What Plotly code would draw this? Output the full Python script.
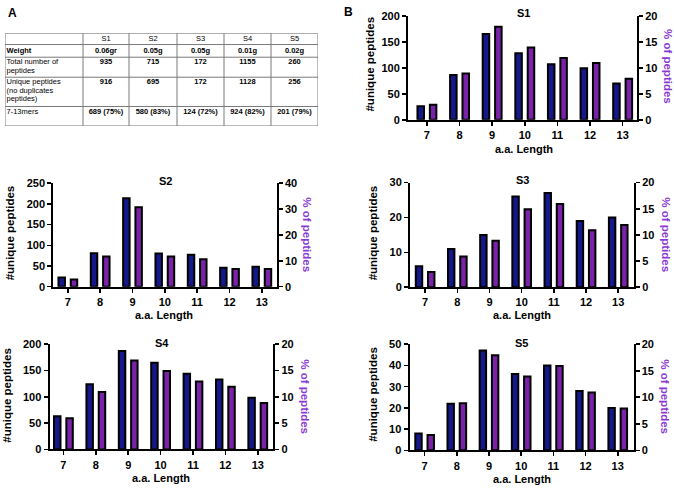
import plotly.graph_objects as go

# ---------------- data ----------------
lengths = [7, 8, 9, 10, 11, 12, 13]

s1_unique = [26, 86, 165, 128, 107, 99, 70]
s1_pct = [2.9, 8.9, 17.9, 13.9, 11.9, 10.9, 7.9]
s2_unique = [22, 81, 214, 80, 77, 46, 48]
s2_pct = [2.8, 11.7, 30.7, 11.7, 10.6, 6.8, 6.8]
s3_unique = [6, 11, 15, 26, 27, 19, 20]
s3_pct = [2.9, 5.9, 8.9, 14.9, 15.9, 10.9, 11.9]
s4_unique = [63, 124, 187, 165, 144, 133, 98]
s4_pct = [5.9, 10.9, 16.9, 14.9, 12.9, 11.9, 8.8]
s5_unique = [8, 22, 47, 36, 40, 28, 20]
s5_pct = [2.9, 8.9, 17.9, 13.9, 15.9, 10.9, 7.9]

samples = ["S1", "S2", "S3", "S4", "S5"]
weights = ["0.06gr", "0.05g", "0.05g", "0.01g", "0.02g"]
total_peptides = ["935", "715", "172", "1155", "260"]
unique_peptides = ["916", "695", "172", "1128", "256"]
mers_7_13 = ["689 (75%)", "580 (83%)", "124 (72%)", "924 (82%)", "201 (79%)"]
row_labels = [["Weight"], ["Total number of", "peptides"],
              ["Unique peptides", "(no duplicates", "peptides)"], ["7-13mers"]]

left_ranges = [200, 250, 30, 200, 50]
left_dticks = [50, 50, 10, 50, 10]
right_ranges = [20, 40, 20, 20, 20]
right_dticks = [5, 10, 5, 5, 5]

# ---------------- layout (pixel geometry) ----------------
W, H = 674, 491
FONT = "Liberation Sans, Arial, sans-serif"
BLUE = "#15188A"
PURPLE = "#7A22A8"
TITLE_PURPLE = "#8A3AD2"

def fx(v):
    return v / W

def fy(v):
    return 1 - v / H

panels = [
    dict(x=(408, 637), y=(10, 116.7), xr=(6.42, 13.44),
         lt=(370, 60), rt=(667.5, 62), xt=(524, 147), tt=(523, 7)),
    dict(x=(53.3, 276.7), y=(181.7, 287.7), xr=(6.55, 13.46),
         lt=(10, 233), rt=(307, 234), xt=(164, 316.5), tt=(165, 179)),
    dict(x=(410, 634), y=(181, 288.3), xr=(6.53, 13.49),
         lt=(373, 232), rt=(666, 234), xt=(522, 317), tt=(522, 178.5)),
    dict(x=(49.5, 273.3), y=(346.7, 454.5), xr=(6.57, 13.48),
         lt=(7.5, 399), rt=(305, 400), xt=(161, 484), tt=(161.5, 345)),
    dict(x=(409.5, 633.5), y=(346.7, 455.5), xr=(6.53, 13.49),
         lt=(373, 397.5), rt=(665, 400), xt=(521.5, 485), tt=(521.5, 345)),
]

uniques = [s1_unique, s2_unique, s3_unique, s4_unique, s5_unique]
pcts = [s1_pct, s2_pct, s3_pct, s4_pct, s5_pct]

fig = go.Figure()
layout = dict(
    width=W, height=H, margin=dict(l=0, r=0, t=0, b=0),
    paper_bgcolor="white", plot_bgcolor="white",
    showlegend=False, barmode="overlay",
    font=dict(family=FONT, color="black"),
)
annotations = []
shapes = []

tickfont = dict(family=FONT, size=11, color="black", weight="bold")

for i, p in enumerate(panels):
    n = i + 1
    xn = "x" if n == 1 else f"x{n}"
    yl_n = 2 * n - 1
    yr_n = 2 * n
    yl = "y" if yl_n == 1 else f"y{yl_n}"
    yr = f"y{yr_n}"
    xkey = "xaxis" if n == 1 else f"xaxis{n}"
    ylkey = "yaxis" if yl_n == 1 else f"yaxis{yl_n}"
    yrkey = f"yaxis{yr_n}"

    fig.add_trace(go.Bar(
        x=lengths, y=uniques[i], xaxis=xn, yaxis=yl,
        width=0.2, offset=-0.29,
        marker=dict(color=BLUE, line=dict(color="black", width=2)),
        hoverinfo="skip"))
    fig.add_trace(go.Bar(
        x=lengths, y=pcts[i], xaxis=xn, yaxis=yr,
        width=0.2, offset=0.09,
        marker=dict(color=PURPLE, line=dict(color="black", width=2)),
        hoverinfo="skip"))

    common = dict(showgrid=False, zeroline=False, showline=True,
                  linecolor="black", linewidth=2, ticks="outside",
                  ticklen=4, tickwidth=1.6, tickcolor="black",
                  tickfont=tickfont, fixedrange=True)
    layout[xkey] = dict(
        domain=[fx(p["x"][0]), fx(p["x"][1])], anchor=yl,
        range=list(p["xr"]), tickmode="array", tickvals=lengths,
        ticktext=[str(v) for v in lengths], **common)
    layout[ylkey] = dict(
        domain=[fy(p["y"][1]), fy(p["y"][0])], anchor=xn,
        range=[0, left_ranges[i]], dtick=left_dticks[i], tick0=0, **common)
    layout[yrkey] = dict(
        domain=[fy(p["y"][1]), fy(p["y"][0])], anchor=xn,
        overlaying=yl, side="right",
        range=[0, right_ranges[i]], dtick=right_dticks[i], tick0=0, **common)

    annotations.append(dict(
        text="<b>#unique peptides</b>", x=fx(p["lt"][0]), y=fy(p["lt"][1]),
        xref="paper", yref="paper", showarrow=False, textangle=-90,
        font=dict(family=FONT, size=11.5, color="black"),
        xanchor="center", yanchor="middle"))
    annotations.append(dict(
        text="<b>% of peptides</b>", x=fx(p["rt"][0]), y=fy(p["rt"][1]),
        xref="paper", yref="paper", showarrow=False, textangle=90,
        font=dict(family=FONT, size=11.5, color=TITLE_PURPLE),
        xanchor="center", yanchor="middle"))
    annotations.append(dict(
        text="<b>a.a. Length</b>", x=fx(p["xt"][0]), y=fy(p["xt"][1]),
        xref="paper", yref="paper", showarrow=False,
        font=dict(family=FONT, size=11, color="black"),
        xanchor="center", yanchor="middle"))
    annotations.append(dict(
        text=f"<b>{samples[i]}</b>", x=fx(p["tt"][0]), y=fy(p["tt"][1]),
        xref="paper", yref="paper", showarrow=False,
        font=dict(family=FONT, size=11, color="black"),
        xanchor="center", yanchor="middle"))

# panel letters
annotations.append(dict(text="<b>A</b>", x=fx(12), y=fy(7.5), xref="paper", yref="paper",
                        showarrow=False, font=dict(family=FONT, size=12, color="black"),
                        xanchor="center", yanchor="middle"))
annotations.append(dict(text="<b>B</b>", x=fx(349), y=fy(6.5), xref="paper", yref="paper",
                        showarrow=False, font=dict(family=FONT, size=12, color="black"),
                        xanchor="center", yanchor="middle"))

# ---------------- table (panel A) ----------------
tbl_left, tbl_right, tbl_top, tbl_bottom = 5, 318, 28, 123
col_edges = [0, 78, 124, 172, 219, 266, 313]
row_edges = [0, 11.5, 24.5, 45, 75, 95]
row_text_off = [6.2, 6.8, 5.2, 4.8, 5.5]
line_h = 9

layout["xaxis6"] = dict(domain=[fx(tbl_left), fx(tbl_right)], range=[0, col_edges[-1]],
                        visible=False, fixedrange=True, anchor="y11")
layout["yaxis11"] = dict(domain=[fy(tbl_bottom), fy(tbl_top)], range=[row_edges[-1], 0],
                         visible=False, fixedrange=True, anchor="x6")

for xe in col_edges:
    shapes.append(dict(type="line", xref="x6", yref="y11", x0=xe, x1=xe,
                       y0=row_edges[0], y1=row_edges[-1],
                       line=dict(color="#7a7a7a", width=1)))
for ye in row_edges:
    shapes.append(dict(type="line", xref="x6", yref="y11", x0=col_edges[0], x1=col_edges[-1],
                       y0=ye, y1=ye, line=dict(color="#7a7a7a", width=1)))

tx, ty, tt = [], [], []
for c, s in enumerate(samples):
    tx.append((col_edges[c + 1] + col_edges[c + 2]) / 2)
    ty.append(row_edges[0] + row_text_off[0])
    tt.append(s)
value_rows = [weights, total_peptides, unique_peptides, mers_7_13]
for r, vals in enumerate(value_rows):
    for c, v in enumerate(vals):
        tx.append((col_edges[c + 1] + col_edges[c + 2]) / 2)
        ty.append(row_edges[r + 1] + row_text_off[r + 1])
        tt.append(f"<b>{v}</b>")

fig.add_trace(go.Scatter(x=tx, y=ty, text=tt, mode="text", xaxis="x6", yaxis="y11",
                         textposition="middle center", hoverinfo="skip",
                         textfont=dict(family=FONT, size=7.5, color="black")))

lx, ly, lt = [], [], []
for r, lines in enumerate(row_labels):
    for k, ln in enumerate(lines):
        lx.append(col_edges[0] + 1.5)
        ly.append(row_edges[r + 1] + row_text_off[r + 1] + k * line_h)
        lt.append(f"<b>{ln}</b>" if ln == "Weight" else ln)
fig.add_trace(go.Scatter(x=lx, y=ly, text=lt, mode="text", xaxis="x6", yaxis="y11",
                         textposition="middle right", hoverinfo="skip",
                         textfont=dict(family=FONT, size=7.5, color="black")))

layout["annotations"] = annotations
layout["shapes"] = shapes
fig.update_layout(**layout)
fig.write_html(
    "out.html",
    config={"displayModeBar": False, "staticPlot": True},
    post_script="document.body.style.margin='0';document.body.style.padding='0';"
                "document.body.style.overflow='hidden';",
)
